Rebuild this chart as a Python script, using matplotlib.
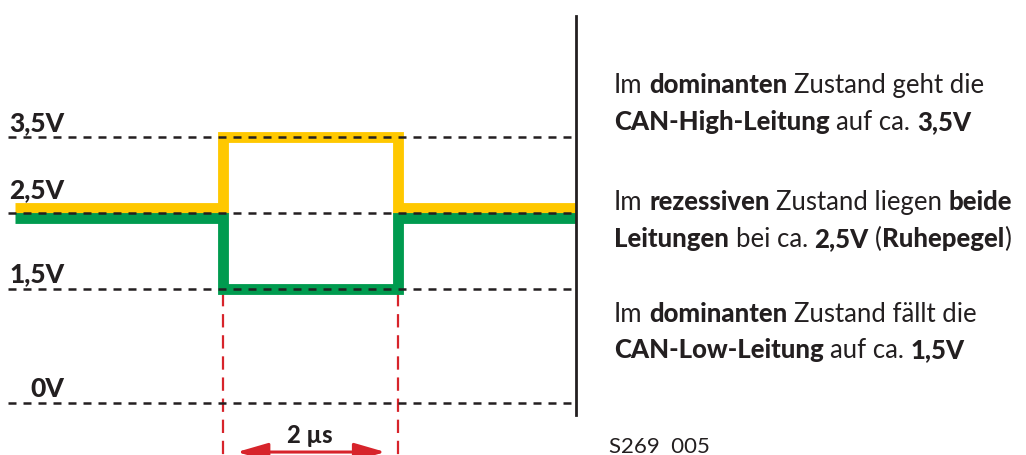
import numpy as np
import matplotlib
matplotlib.use("Agg")
import matplotlib.pyplot as plt
from matplotlib.transforms import offset_copy

# signal data (time in µs, level in V)
times = [-2.38, 0.0, 2.0, 4.04]
can_high = [2.5, 3.5, 2.5, 2.5]
can_low = [2.5, 1.5, 2.5, 2.5]
rest_level = 2.5

ref_levels = [3.5, 2.5, 1.5, 0.0]
ref_labels = ["3,5V", "2,5V", "1,5V", "0V"]
label_lift_px = [6, 15, 7, 6]

bit_start = 0.0
bit_end = 2.0
bit_label = "2 µs"

# right-hand description, (text, bold) pieces per line
desc_lines = [
    [("Im", False), ("dominanten", True), ("Zustand geht die", False)],
    [("CAN-High-Leitung", True), ("auf ca.", False), ("3,5V", True)],
    [("Im", False), ("rezessiven", True), ("Zustand liegen", False), ("beide", True)],
    [("Leitungen", True), ("bei ca.", False), ("2,5V", True), ("(", False, True), ("Ruhepegel", True), (")", False, False)],
    [("Im", False), ("dominanten", True), ("Zustand fällt die", False)],
    [("CAN-Low-Leitung", True), ("auf ca.", False), ("1,5V", True)],
]
desc_baselines = [93, 130, 210, 247, 322, 358]
figure_id = "S269  005"

YELLOW = "#ffc800"
GREEN = "#009b4f"
RED = "#d7242b"
DARK = "#231f20"
FONT = "Lato"
BOLD = 900
DESC_SIZE = 18.5

W, H = 1026, 455
fig = plt.figure(figsize=(W / 100, H / 100), dpi=100)
ax = fig.add_axes([0, 0, 1, 1])
ax.set_xlim(-2.556, 9.203)
ax.set_ylim(-0.684, 5.303)
ax.axis("off")

# dashed reference levels
for lvl in ref_levels:
    ax.plot([-2.46, 4.04], [lvl, lvl], color=DARK, lw=1.8,
            dashes=(3.2, 2.8), zorder=3)

# the two bus lines, split apart a little where they share the rest level
split = 0.07
h = np.array(can_high)
l = np.array(can_low)
h_draw = np.where(h == rest_level, h + split, h)
l_draw = np.where(l == rest_level, l - split, l)
ax.plot(times, h_draw, drawstyle="steps-post", color=YELLOW, lw=7.8,
        solid_joinstyle="miter", solid_capstyle="butt", zorder=2)
ax.plot(times, l_draw, drawstyle="steps-post", color=GREEN, lw=7.8,
        solid_joinstyle="miter", solid_capstyle="butt", zorder=2)

# vertical separator
ax.plot([4.045, 4.045], [5.09, -0.16], color=DARK, lw=2.0, zorder=3)

# level labels
for lvl, lab, lift in zip(ref_levels, ref_labels, label_lift_px):
    tr = offset_copy(ax.transData, fig=fig, y=lift, units="dots")
    ax.text(-1.82, lvl, lab, transform=tr, ha="right", va="baseline",
            fontsize=19, fontweight=BOLD, family=FONT, color=DARK)

# bit time markers
for tx in (bit_start, bit_end):
    ax.plot([tx, tx], [1.45, -0.7], color=RED, lw=1.6, dashes=(6, 3.5),
            zorder=1)
ax.annotate("", xy=(bit_start + 0.16, -0.645), xytext=(bit_end - 0.14, -0.645),
            arrowprops=dict(arrowstyle="<|-|>,head_length=1.9,head_width=0.55",
                            color=RED, lw=2.2, shrinkA=0, shrinkB=0))
ax.text((bit_start + bit_end) / 2, -0.52, bit_label, ha="center",
        va="baseline", fontsize=17, fontweight=BOLD, family=FONT,
        color=DARK)

# description text, laid out piece by piece
renderer = fig.canvas.get_renderer()


def text_width(s, bold):
    t = fig.text(0, 0, s, fontsize=DESC_SIZE, family=FONT,
                 fontweight=BOLD if bold else "normal")
    w = t.get_window_extent(renderer).width
    t.remove()
    return w


space_w = text_width("a a", False) - text_width("aa", False)

for pieces, base in zip(desc_lines, desc_baselines):
    x = 614
    for i, piece in enumerate(pieces):
        s, bold = piece[0], piece[1]
        t = fig.text(x / W, 1 - base / H, s, fontsize=DESC_SIZE, family=FONT,
                     fontweight=BOLD if bold else "normal",
                     va="baseline", ha="left", color=DARK)
        x += t.get_window_extent(renderer).width
        no_space = len(piece) > 2 and piece[2]
        nxt = pieces[i + 1] if i + 1 < len(pieces) else None
        if nxt is not None and not no_space and nxt[0] != ")":
            x += space_w

fig.text(609 / W, 1 - 453 / H, figure_id, fontsize=16, family=FONT,
         va="baseline", ha="left", color=DARK)

fig.savefig("out.png", dpi=100)
